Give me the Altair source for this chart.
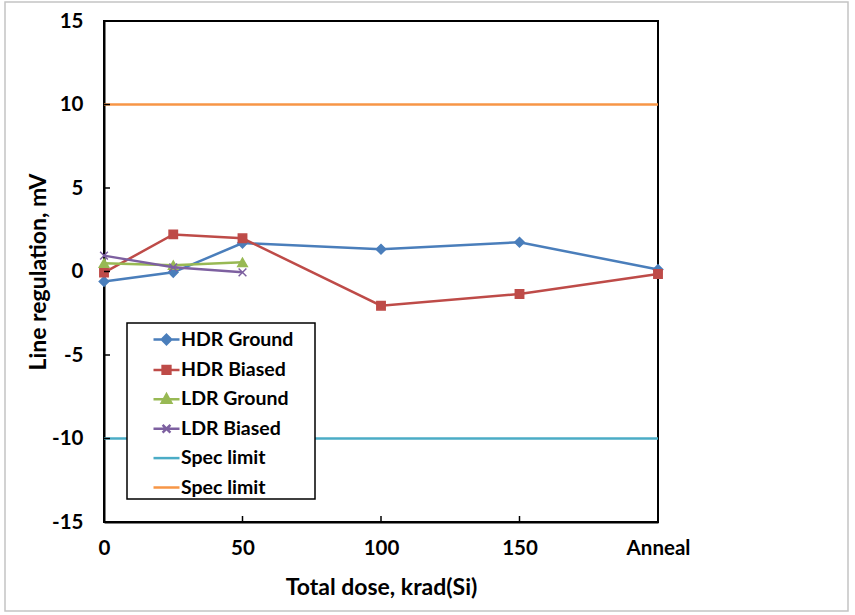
import altair as alt
import pandas as pd

# ---- measured values -------------------------------------------------------
doses = [0, 25, 50, 100, 150, 200]          # 200 is shown as "Anneal"
hdr_ground = [-0.60, -0.05, 1.70, 1.33, 1.75, 0.12]
hdr_biased = [-0.07, 2.22, 1.99, -2.05, -1.35, -0.15]

ldr_doses = [0, 25, 50]
ldr_ground = [0.50, 0.38, 0.55]
ldr_biased = [0.95, 0.25, -0.05]

spec_lower = -10
spec_upper = 10

legend_keys = ["HDR Ground", "HDR Biased", "LDR Ground", "LDR Biased",
               "Spec limit (lower)", "Spec limit (upper)"]

x_tick_values = [0, 50, 100, 150, 200]
y_tick_values = [-15, -10, -5, 0, 5, 10, 15]

# ---- styling ---------------------------------------------------------------
FONT = "Lato"
colors = ["#4A7EBB", "#BE4B48", "#98B954", "#7D60A0", "#4BACC6", "#F79646"]
plot_shapes = ["diamond", "square", "triangle-up", "M-1,-1L1,1M-1,1L1,-1"]
plot_sizes = [90, 70, 90, 60]
legend_paths = [
    "M-1,0H1M0,-0.36L0.36,0L0,0.36L-0.36,0Z",
    "M-1,0H1M-0.3,-0.3H0.3V0.3H-0.3Z",
    "M-1,0H1M0,-0.38L0.36,0.26H-0.36Z",
    "M-1,0H1M-0.3,-0.3L0.3,0.3M-0.3,0.3L0.3,-0.3",
    "M-1,0H1",
    "M-1,0H1",
]

W, H = 554, 501
LABEL_SIZE = 20.5
TITLE_SIZE = 23

x_axis = alt.Axis(
    values=x_tick_values, labelExpr="datum.value == 200 ? 'Anneal' : '' + datum.value",
    ticks=False, tickSize=0, grid=False, domainColor="black", domainWidth=2,
    labelFont=FONT, labelFontWeight="bold", labelFontSize=LABEL_SIZE, labelColor="black",
    labelPadding=16, labelFlush=False,
    title="Total dose, krad(Si)", titleFont=FONT, titleFontWeight="bold",
    titleFontSize=TITLE_SIZE, titleColor="black", titlePadding=18,
)
y_axis = alt.Axis(
    values=y_tick_values, labelExpr="'' + datum.value",
    ticks=False, tickSize=0, grid=False,
    domainColor="black", domainWidth=2,
    labelFont=FONT, labelFontWeight="bold", labelFontSize=LABEL_SIZE, labelColor="black",
    labelPadding=21, labelFlush=False,
    title="Line regulation, mV", titleFont=FONT, titleFontWeight="bold",
    titleFontSize=TITLE_SIZE, titleColor="black", titlePadding=1,
)
x_enc = alt.X("dose:Q", scale=alt.Scale(domain=[0, 200], nice=False, zero=False), axis=x_axis)
y_enc = alt.Y("value:Q", scale=alt.Scale(domain=[-15, 15], nice=False, zero=False), axis=y_axis)

# ---- legend (built from explicit scale domains, no marks drawn) -----------
# a tiny white title on the right side acts as the box's right margin
legend = alt.Legend(
    orient="none", legendX=23, legendY=302,
    title=".", titleOrient="right", titleFontSize=2, titleColor="white", titlePadding=19,
    fillColor="white", strokeColor="black", padding=2,
    symbolSize=676, symbolOffset=23, symbolStrokeWidth=2.5, labelOffset=0,
    rowPadding=5.4,
    labelFont=FONT, labelFontWeight="bold", labelFontSize=19.5, labelColor="black",
    labelExpr="indexof(datum.label, 'Spec limit') == 0 ? 'Spec limit' : datum.label",
)
legend_df = pd.DataFrame({"series": legend_keys})
legend_layer = alt.Chart(legend_df).transform_filter("false").mark_point(
    filled=True, opacity=1, strokeWidth=2.5
).encode(
    fill=alt.Fill("series:N", scale=alt.Scale(domain=legend_keys, range=colors), legend=legend),
    stroke=alt.Stroke("series:N", scale=alt.Scale(domain=legend_keys, range=colors), legend=legend),
    shape=alt.Shape("series:N", scale=alt.Scale(domain=legend_keys, range=legend_paths), legend=legend),
)

layers = [legend_layer]

# ---- outer frame of the figure --------------------------------------------
frame = alt.Chart(alt.Data(values=[{}])).mark_rect(
    fill="transparent", stroke="#c4c4c4", strokeWidth=1.5
).encode(x=alt.value(-99), x2=alt.value(744), y=alt.value(-19), y2=alt.value(590))
layers.append(frame)

# ---- spec limits -----------------------------------------------------------
for val, col in [(spec_lower, colors[4]), (spec_upper, colors[5])]:
    layers.append(
        alt.Chart(pd.DataFrame({"value": [val]})).mark_rule(color=col, strokeWidth=2.5)
        .encode(y=y_enc)
    )

# ---- measured series -------------------------------------------------------
series = [
    (doses, hdr_ground), (doses, hdr_biased),
    (ldr_doses, ldr_ground), (ldr_doses, ldr_biased),
]
for i, (xs, ys) in enumerate(series):
    df = pd.DataFrame({"dose": xs, "value": ys})
    base = alt.Chart(df).encode(x=x_enc, y=y_enc)
    layers.append(base.mark_line(color=colors[i], strokeWidth=2.5))
    layers.append(base.mark_point(
        shape=plot_shapes[i], size=plot_sizes[i], filled=True, opacity=1,
        fill=colors[i], stroke=colors[i], strokeWidth=1.5,
    ))

# ---- inward tick marks -----------------------------------------------------
layers.append(
    alt.Chart(pd.DataFrame({"value": y_tick_values})).mark_rule(color="black", strokeWidth=1.5)
    .encode(y=y_enc, x=alt.value(0), x2=alt.value(6))
)
layers.append(
    alt.Chart(pd.DataFrame({"dose": x_tick_values})).mark_rule(color="black", strokeWidth=1.5)
    .encode(x=x_enc, y=alt.value(H), y2=alt.value(H - 6))
)

chart = alt.layer(*layers).properties(
    width=W, height=H,
    autosize="none",
    padding={"left": 104, "top": 21, "right": 197, "bottom": 93},
    background="white",
).configure_view(stroke="black", strokeWidth=2).configure_legend(strokeWidth=1.5)

chart.save("out.html", embed_options={"renderer": "svg", "actions": False})
